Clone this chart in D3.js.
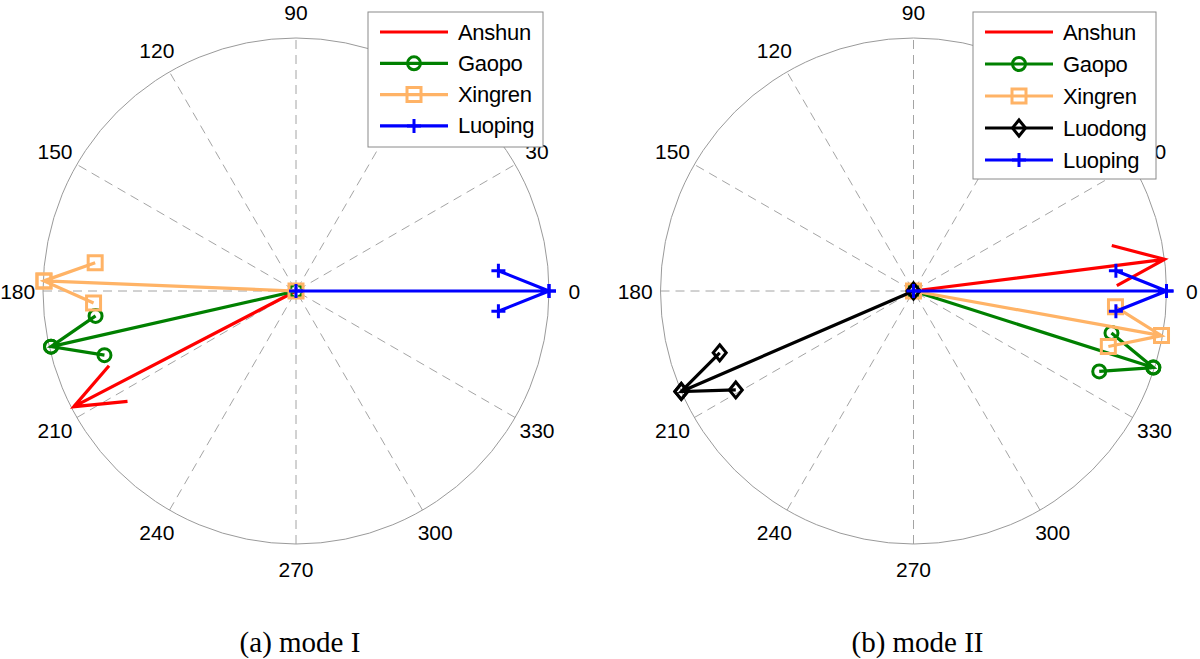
<!DOCTYPE html>
<html><head><meta charset="utf-8">
<script src="https://cdn.jsdelivr.net/npm/d3@7"></script>
<style>body{margin:0;background:#fff}svg{display:block}</style>
</head><body>
<script>
// ---- data ----
const angleTicks = [0,30,60,90,120,150,180,210,240,270,300,330];
const seriesA = ["Anshun","Gaopo","Xingren","Luoping"];
const magA = [0.99, 0.993, 0.997, 1.0];
const angA = [207.5, 192.8, 177.7, 0];
const seriesB = ["Anshun","Gaopo","Xingren","Luodong","Luoping"];
const magB = [1.0, 0.995, 0.996, 1.0, 1.0];
const angB = [7.2, 342.3, 349.8, 203.4, 0];
const captions = ["(a) mode I", "(b) mode II"];

const style = {
  Anshun:{color:"#ff0000", marker:"none"},
  Gaopo:{color:"#008000", marker:"circle"},
  Xingren:{color:"#ffb366", marker:"square"},
  Luodong:{color:"#000000", marker:"diamond"},
  Luoping:{color:"#0000ff", marker:"plus"}
};

const W=1200,H=659;
const svg=d3.select("body").append("svg").attr("width",W).attr("height",H);
const R=253;
const font="'Liberation Sans', Arial, sans-serif";

function markerPath(type,x,y){
  const p=d3.path();
  if(type==="circle"){p.moveTo(x+6.5,y);p.arc(x,y,6.5,0,2*Math.PI);}
  else if(type==="square"){p.rect(x-7,y-7,14,14);}
  else if(type==="plus"){p.moveTo(x-7,y);p.lineTo(x+7,y);p.moveTo(x,y-7);p.lineTo(x,y+7);}
  else if(type==="diamond"){p.moveTo(x,y-8);p.lineTo(x+6.5,y);p.lineTo(x,y+8);p.lineTo(x-6.5,y);p.closePath();}
  return p.toString();
}

function drawCompass(cx,cy,names,mags,angs,legendBox,caption){
  const g=svg.append("g").attr("transform",`translate(${cx},${cy})`);
  const r=d3.scaleLinear().domain([0,1]).range([0,R]);
  const pt=(m,a)=>[r(m)*Math.cos(a*Math.PI/180), -r(m)*Math.sin(a*Math.PI/180)];
  // spokes
  [0,30,60,90,120,150].forEach(a=>{
    const p1=pt(1,a),p2=pt(1,a+180);
    g.append("line").attr("x1",p2[0]).attr("y1",p2[1]).attr("x2",p1[0]).attr("y2",p1[1])
      .attr("stroke","#9a9a9a").attr("stroke-width",0.9).attr("stroke-dasharray","9,6");
  });
  g.append("circle").attr("r",r(1)).attr("fill","none").attr("stroke","#9a9a9a").attr("stroke-width",1);
  // labels
  angleTicks.forEach(a=>{
    const p=pt(1.1,a);
    g.append("text").attr("x",p[0]).attr("y",p[1]).attr("text-anchor","middle")
      .attr("dominant-baseline","central").attr("font-family",font).attr("font-size",21)
      .text(a);
  });
  // arrows
  names.forEach((n,i)=>{
    const m=mags[i],a=angs[i];
    const tip=pt(m,a);
    const base=pt(0.8*m,a);
    const ux=Math.cos(a*Math.PI/180), uy=-Math.sin(a*Math.PI/180);
    const px=-uy, py=ux;
    const off=r(0.08*m);
    const h1=[base[0]+px*off, base[1]+py*off];
    const h2=[base[0]-px*off, base[1]-py*off];
    const pts=[[0,0],tip,h1,tip,h2];
    const st=style[n];
    g.append("path").attr("d",d3.line()(pts)).attr("fill","none").attr("stroke",st.color)
      .attr("stroke-width",3.2).attr("stroke-linejoin","miter").attr("stroke-linecap","butt");
    if(st.marker!=="none"){
      pts.forEach(q=>{
        g.append("path").attr("d",markerPath(st.marker,q[0],q[1])).attr("fill","none")
          .attr("stroke",st.color).attr("stroke-width",3);
      });
    }
  });
  // legend
  const lg=svg.append("g");
  lg.append("rect").attr("x",legendBox.x).attr("y",legendBox.y).attr("width",legendBox.w).attr("height",legendBox.h)
    .attr("fill","#fff").attr("stroke","#8a8a8a").attr("stroke-width",1);
  names.forEach((n,i)=>{
    const y=legendBox.y+20+i*legendBox.step;
    const x0=legendBox.x+12, x1=x0+68;
    const st=style[n];
    lg.append("line").attr("x1",x0).attr("x2",x1).attr("y1",y).attr("y2",y).attr("stroke",st.color).attr("stroke-width",3.2);
    if(st.marker!=="none") lg.append("path").attr("d",markerPath(st.marker,(x0+x1)/2,y)).attr("fill","none").attr("stroke",st.color).attr("stroke-width",3);
    lg.append("text").attr("x",x1+10).attr("y",y).attr("dominant-baseline","central")
      .attr("font-family",font).attr("font-size",22).attr("letter-spacing",-0.3).text(n);
  });
  svg.append("text").attr("x",cx+4).attr("y",652).attr("text-anchor","middle")
    .attr("font-family","'Liberation Serif','Times New Roman',serif").attr("font-size",29).text(caption);
}

drawCompass(296,291,seriesA,magA,angA,{x:368,y:12,w:175,h:135,step:31.3},captions[0]);
drawCompass(913.5,291,seriesB,magB,angB,{x:973,y:12,w:183,h:167,step:32},captions[1]);
</script>
</body></html>
